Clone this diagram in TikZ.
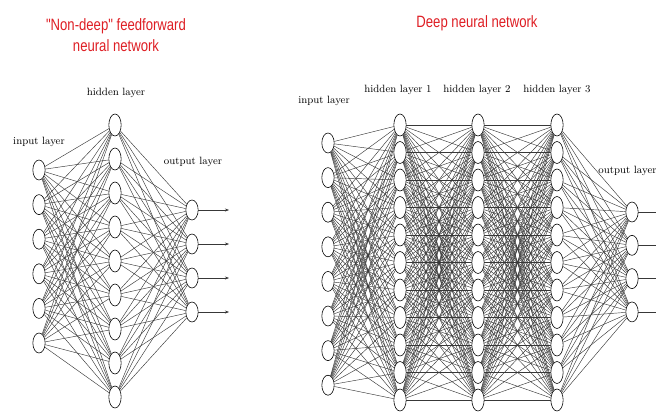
\documentclass[tikz,border=0pt]{standalone}
\usepackage{fontspec}
\newfontfamily\titlefont[FakeStretch=0.8]{Liberation Sans}
\usepackage{xcolor}
\usetikzlibrary{arrows.meta,shapes.geometric}
\definecolor{titlered}{RGB}{222,30,36}

\begin{document}
\begin{tikzpicture}[
  x=0.03cm, y=-0.03cm,
  >={Stealth[length=3.5pt,width=2.6pt]},
  N/.style={draw, ellipse, fill=white, line width=0.5pt, inner sep=0pt,
    minimum width=0.37cm, minimum height=#1},
  N/.default=0.6cm,
  E/.style={black!78, line width=0.38pt},
  L/.style={font=\fontsize{9}{10}\selectfont},
  T/.style={font=\titlefont\fontsize{14}{18.5}\selectfont, text=titlered, align=center},
]
\clip (0,0) rectangle (656,413);

%--- TITLES ---
\node[T] (tshallow) at (116,35) {"Non-deep" feedforward\\neural network};
\node[T] (tdeep)    at (477,23) {Deep neural network};

%--- SHALLOW NET: NODES ---
\foreach \k in {1,...,6} \node[N] (i\k) at (39,{170+34.6*(\k-1)}) {};
\foreach \k in {1,...,9} \node[N=0.66cm] (h\k) at (115,{125+34*(\k-1)}) {};
\foreach \k in {1,...,4} {
  \node[N] (o\k) at (192,{210+34*(\k-1)}) {};
  \coordinate (oa\k) at (229,{210+34*(\k-1)});
}

%--- SHALLOW NET: LABELS ---
\node[L] (lin)  at (39,142)  {input layer};
\node[L] (lhid) at (116,93)  {hidden layer};
\node[L] (lout) at (193,162) {output layer};

%--- SHALLOW NET: CONNECTIONS ---
\foreach \a in {1,...,6} \foreach \b in {1,...,9} \draw[E] (i\a) -- (h\b);
\foreach \a in {1,...,9} \foreach \b in {1,...,4} \draw[E] (h\a) -- (o\b);
\foreach \k in {1,...,4} \draw[E, ->] (o\k) -- (oa\k);

%--- DEEP NET: NODES ---
\foreach \k in {1,...,8} \node[N] (a\k) at (328,{143+34.6*(\k-1)}) {};
\foreach \l/\x in {1/400,2/478,3/557}
  \foreach \k in {1,...,11} \node[N=0.66cm] (d\l-\k) at (\x,{125+27.5*(\k-1)}) {};
\foreach \k in {1,...,4} {
  \node[N] (q\k) at (632,{212+33.3*(\k-1)}) {};
  \coordinate (qa\k) at (672,{212+33.3*(\k-1)});
}

%--- DEEP NET: LABELS ---
\node[L] (din)  at (324,101) {input layer};
\node[L] (dh1)  at (398,90)  {hidden layer 1};
\node[L] (dh2)  at (477,90)  {hidden layer 2};
\node[L] (dh3)  at (557,90)  {hidden layer 3};
\node[L, anchor=west, inner sep=1pt] (dout) at (597,171) {output layer};

%--- DEEP NET: CONNECTIONS ---
\foreach \a in {1,...,8} \foreach \b in {1,...,11} \draw[E] (a\a) -- (d1-\b);
\foreach \l/\m in {1/2,2/3}
  \foreach \a in {1,...,11} \foreach \b in {1,...,11} \draw[E] (d\l-\a) -- (d\m-\b);
\foreach \a in {1,...,11} \foreach \b in {1,...,4} \draw[E] (d3-\a) -- (q\b);
\foreach \k in {1,...,4} \draw[E, ->] (q\k) -- (qa\k);
\end{tikzpicture}
\end{document}
